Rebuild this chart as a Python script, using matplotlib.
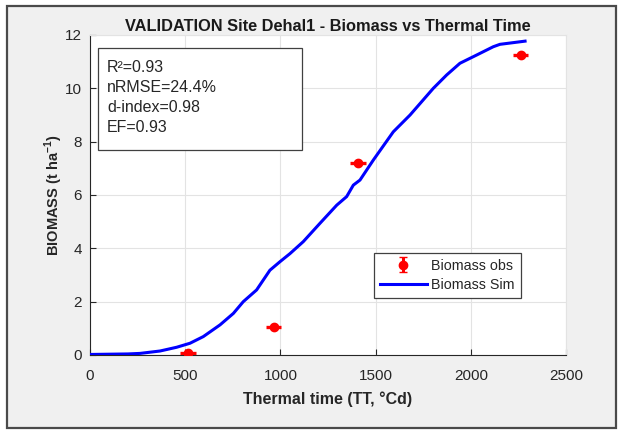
import numpy as np
import matplotlib
matplotlib.use("Agg")
import matplotlib.pyplot as plt
from matplotlib.patches import Rectangle
from matplotlib.lines import Line2D

# ---- data ----
sim_tt = [0, 100, 200, 263, 368, 455, 525, 595, 683, 753, 805, 875, 945, 998,
          1050, 1120, 1208, 1296, 1348, 1383, 1418, 1488, 1593, 1681, 1742,
          1803, 1873, 1943, 2031, 2118, 2153, 2285]
sim_bio = [0.02, 0.03, 0.04, 0.06, 0.15, 0.29, 0.44, 0.69, 1.13, 1.56, 2.0,
           2.44, 3.18, 3.5, 3.8, 4.25, 4.94, 5.62, 5.94, 6.37, 6.56, 7.31,
           8.37, 9.0, 9.5, 10.0, 10.5, 10.94, 11.25, 11.56, 11.65, 11.77]
obs_tt = [515, 965, 1405, 2262]
obs_bio = [0.06, 1.05, 7.2, 11.25]
obs_tt_err = [40, 40, 42, 38]
stats_lines = ["R²=0.93", "nRMSE=24.4%", "d-index=0.98", "EF=0.93"]
x_ticks = [0, 500, 1000, 1500, 2000, 2500]
y_ticks = [0, 2, 4, 6, 8, 10, 12]

plt.rcParams['font.family'] = ['Liberation Sans', 'DejaVu Sans']
plt.rcParams['mathtext.fontset'] = 'custom'
plt.rcParams['mathtext.rm'] = 'Liberation Sans'
plt.rcParams['mathtext.bf'] = 'Liberation Sans:bold'

W, H = 618, 430
fig = plt.figure(figsize=(W / 100, H / 100), dpi=100, facecolor='white')

# window-like grey panel with dark frame
fig.patches.append(Rectangle((7 / W, 2 / H), (616 - 7) / W, (424 - 2) / H,
                             transform=fig.transFigure, facecolor='#f0f0f0',
                             edgecolor='#4a4a4a', linewidth=1.6, zorder=-10))

ax = fig.add_axes([90 / W, 1 - 355 / H, (566 - 90) / W, (355 - 35) / H])
ax.set_facecolor('white')

ax.plot(sim_tt, sim_bio, color='#0000ff', linewidth=2.2, zorder=3)
ax.errorbar(obs_tt, obs_bio, xerr=obs_tt_err, fmt='o', color='#ff0000',
            markersize=6, elinewidth=2.4, capsize=0, zorder=4)

ax.set_xlim(0, 2500)
ax.set_ylim(0, 12)
ax.set_xticks(x_ticks)
ax.set_yticks(y_ticks)
ax.grid(True, color='#e3e3e3', linewidth=0.8)
ax.set_axisbelow(True)
ax.tick_params(direction='in', length=4, width=0.8, colors='#262626',
               labelsize=11)
ax.tick_params(axis='x', pad=10)
ax.tick_params(axis='y', pad=6)
for s in ['top', 'right']:
    ax.spines[s].set_color('#e3e3e3')
    ax.spines[s].set_linewidth(0.8)
for s in ['left', 'bottom']:
    ax.spines[s].set_color('#262626')
    ax.spines[s].set_linewidth(0.8)

ax.set_xlabel('Thermal time (TT, °Cd)', fontsize=11.5, fontweight='bold',
              color='#262626', labelpad=6)
ax.set_ylabel(r'BIOMASS (t ha$^{\mathbf{-1}}$)', fontsize=10.5,
              fontweight='bold', color='#262626', labelpad=0)
ax.set_title('VALIDATION Site Dehal1 - Biomass vs Thermal Time',
             fontsize=11.8, fontweight='bold', color='#1a1a1a', pad=3)

# stats box
ax.add_patch(Rectangle((0.017, 0.64), 0.428, 0.319, transform=ax.transAxes,
                       facecolor='white', edgecolor='#404040', linewidth=0.9,
                       zorder=5))
ax.text(0.036, 0.922, "\n".join(stats_lines), transform=ax.transAxes,
        ha='left', va='top', fontsize=11.5, linespacing=1.42,
        color='#262626', zorder=6)

# legend
obs_proxy = ax.errorbar([np.nan], [np.nan], yerr=[1], fmt='o', color='#ff0000',
                        markersize=6, elinewidth=2.2, capsize=3)
sim_proxy = Line2D([], [], color='#0000ff', linewidth=2.2)
leg = ax.legend([obs_proxy, sim_proxy], ['Biomass obs', 'Biomass Sim'],
                loc='upper left', bbox_to_anchor=(0.597, 0.319),
                fontsize=10.3, fancybox=False, framealpha=1,
                edgecolor='#404040', handlelength=3.3, handletextpad=0.3,
                borderpad=0.4, labelspacing=0.4, borderaxespad=0)
leg.get_frame().set_linewidth(0.9)
for t in leg.get_texts():
    t.set_color('#262626')

fig.savefig('out.png', dpi=100, facecolor=fig.get_facecolor())
